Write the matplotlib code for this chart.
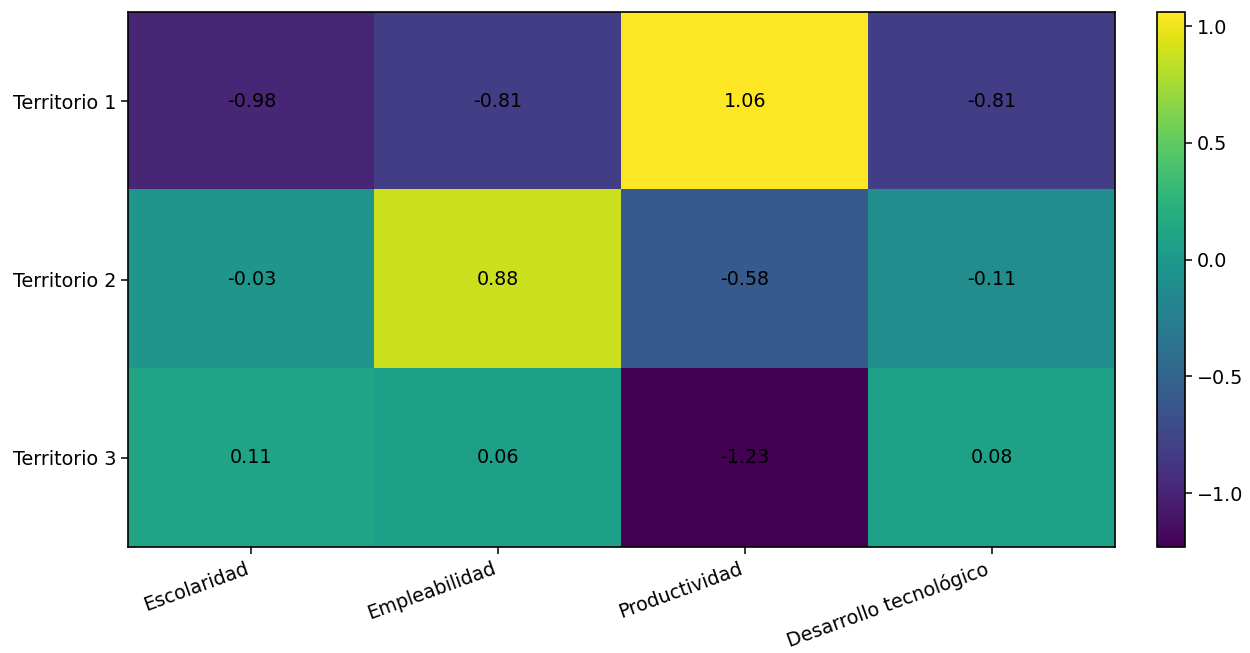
import matplotlib
matplotlib.use('Agg')
import matplotlib.pyplot as plt
import numpy as np

territorios = ['Territorio 1', 'Territorio 2', 'Territorio 3']
indicadores = ['Escolaridad', 'Empleabilidad', 'Productividad', 'Desarrollo tecnológico']
fila_1 = [-0.98, -0.81, 1.06, -0.81]
fila_2 = [-0.03, 0.88, -0.58, -0.11]
fila_3 = [0.11, 0.06, -1.23, 0.08]

datos = np.array([fila_1, fila_2, fila_3])

plt.rcParams['axes.linewidth'] = 1.2
plt.rcParams['xtick.major.size'] = 5
plt.rcParams['ytick.major.size'] = 5
plt.rcParams['xtick.major.width'] = 1.1
plt.rcParams['ytick.major.width'] = 1.1

fig = plt.figure(figsize=(12.5, 6.53), dpi=100)
ax = fig.add_axes([0.1024, 0.1623, 0.7896, 0.8193])
cax = fig.add_axes([0.9256, 0.1623, 0.0224, 0.8193])

im = ax.imshow(datos, cmap='viridis', aspect='auto')
ax.set_xticks(range(len(indicadores)))
ax.set_xticklabels(indicadores, rotation=20, ha='right', fontsize=13.8)
ax.set_yticks(range(len(territorios)))
ax.set_yticklabels(territorios, fontsize=13.8)

for i in range(datos.shape[0]):
    for j in range(datos.shape[1]):
        ax.text(j, i, f'{datos[i, j]:.2f}', ha='center', va='center',
                color='black', fontsize=13.8)

cb = fig.colorbar(im, cax=cax)
cb.ax.tick_params(labelsize=13.8)
cb.outline.set_linewidth(1.2)

fig.savefig('out.png', dpi=100)
